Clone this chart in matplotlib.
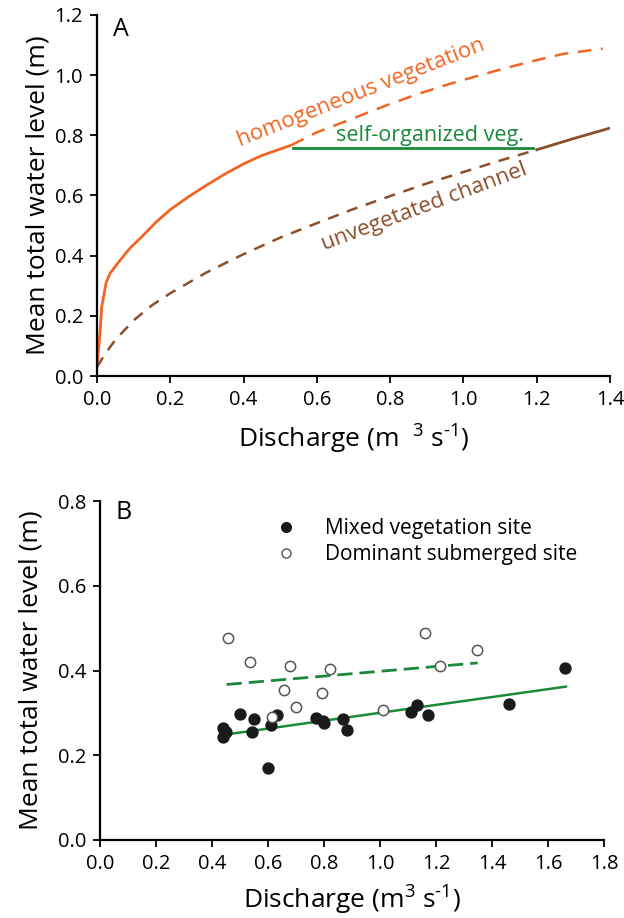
import numpy as np
from matplotlib import pyplot as plt
from matplotlib.lines import Line2D

plt.rcParams['font.family'] = ['Open Sans', 'DejaVu Sans']
plt.rcParams['mathtext.fontset'] = 'custom'
plt.rcParams['mathtext.rm'] = 'Open Sans'
plt.rcParams['mathtext.it'] = 'Open Sans'

ORANGE = '#f26522'
BROWN = '#8b4f2a'
GREEN = '#1a8a3a'

# ---- panel A: model curves
homog_solid_x = [0.0, 0.008, 0.013, 0.025, 0.035, 0.06, 0.09, 0.12, 0.16, 0.2, 0.25, 0.3,
                 0.35, 0.4, 0.45, 0.53]
homog_solid_y = [0.03, 0.14, 0.23, 0.31, 0.34, 0.38, 0.425, 0.46, 0.51, 0.553, 0.596, 0.635,
                 0.672, 0.705, 0.733, 0.767]
homog_dash_x = [0.53, 0.6, 0.69, 0.78, 0.87, 0.96, 1.04, 1.12, 1.2, 1.27, 1.33, 1.38]
homog_dash_y = [0.767, 0.81, 0.852, 0.895, 0.935, 0.97, 0.998, 1.025, 1.05, 1.07, 1.08, 1.088]

selforg_x = [0.535, 1.19]
selforg_y = [0.757, 0.757]

unveg_dash_x = [0.0, 0.008, 0.02, 0.05, 0.1, 0.15, 0.2, 0.3, 0.4, 0.5, 0.6, 0.7, 0.8, 0.9,
                1.0, 1.1, 1.2]
unveg_dash_y = [0.03, 0.045, 0.07, 0.12, 0.185, 0.235, 0.275, 0.345, 0.405, 0.46, 0.508, 0.555,
                0.598, 0.64, 0.678, 0.716, 0.752]
unveg_solid_x = [1.2, 1.3, 1.4]
unveg_solid_y = [0.752, 0.789, 0.824]

# ---- panel B: field data
mixed_q = [0.44, 0.45, 0.44, 0.50, 0.55, 0.541, 0.61, 0.631, 0.60, 0.77, 0.798, 0.80,
           0.869, 0.881, 1.11, 1.131, 1.17, 1.462, 1.662]
mixed_h = [0.265, 0.255, 0.243, 0.297, 0.286, 0.256, 0.271, 0.295, 0.169, 0.289, 0.281, 0.275,
           0.285, 0.260, 0.303, 0.319, 0.296, 0.321, 0.405]
subm_q = [0.456, 0.537, 0.677, 0.821, 0.658, 0.793, 0.699, 0.615, 1.161, 1.346, 1.213, 1.012]
subm_h = [0.477, 0.420, 0.411, 0.403, 0.354, 0.348, 0.314, 0.291, 0.489, 0.449, 0.411, 0.307]

mixed_fit_q = [0.44, 1.664]
mixed_fit_h = [0.248, 0.362]
subm_fit_q = [0.452, 1.349]
subm_fit_h = [0.367, 0.418]

fig = plt.figure(figsize=(6.24, 9.18), dpi=100)

def style(ax):
    for s in ['top', 'right']:
        ax.spines[s].set_visible(False)
    for s in ['left', 'bottom']:
        ax.spines[s].set_linewidth(1.6)
    ax.tick_params(direction='out', length=5, width=1.3, labelsize=14.5, pad=5)

# panel A
axA = fig.add_axes([0.1554, 0.5904, 0.8222, 0.3933])
axA.plot(homog_solid_x, homog_solid_y, color=ORANGE, lw=2, solid_capstyle='butt')
axA.plot(homog_dash_x, homog_dash_y, color=ORANGE, lw=1.8, dashes=(5.5, 3.8))
axA.plot(selforg_x, selforg_y, color=GREEN, lw=2)
axA.plot(unveg_dash_x, unveg_dash_y, color=BROWN, lw=1.8, dashes=(4.5, 3.5))
axA.plot(unveg_solid_x, unveg_solid_y, color=BROWN, lw=2)
axA.set_xlim(0, 1.4)
axA.set_ylim(0, 1.2)
axA.set_xticks(np.arange(0, 1.41, 0.2))
axA.set_yticks(np.arange(0, 1.21, 0.2))
axA.xaxis.set_major_formatter(plt.FormatStrFormatter('%.1f'))
axA.yaxis.set_major_formatter(plt.FormatStrFormatter('%.1f'))
style(axA)
axA.set_ylabel('Mean total water level (m)', fontsize=19, labelpad=3)
axA.set_xlabel('Discharge (m  $\\mathregular{^{3}}$ s$\\mathregular{^{\\text{-}1}}$)', fontsize=19, labelpad=9)
axA.text(0.044, 1.153, 'A', fontsize=18, ha='left', va='center')
axA.text(0.72, 0.94, 'homogeneous vegetation', color=ORANGE, fontsize=16,
         rotation=21.5, ha='center', va='center', rotation_mode='anchor')
axA.text(0.908, 0.80, 'self-organized veg.', color=GREEN, fontsize=15.5,
         ha='center', va='center')
axA.text(0.894, 0.56, 'unvegetated channel', color=BROWN, fontsize=16,
         rotation=20.5, ha='center', va='center', rotation_mode='anchor')

# panel B
axB = fig.add_axes([0.1603, 0.085, 0.8077, 0.3692])
axB.scatter(mixed_q, mixed_h, s=62, color='#1a1a1a', zorder=3)
axB.scatter(subm_q, subm_h, s=55, facecolor='white', edgecolor='#555555', linewidth=1.1, zorder=3)
axB.plot(mixed_fit_q, mixed_fit_h, color=GREEN, lw=1.8, zorder=2)
axB.plot(subm_fit_q, subm_fit_h, color=GREEN, lw=2, dashes=(5.5, 2.5), zorder=2)
axB.set_xlim(0, 1.8)
axB.set_ylim(0, 0.8)
axB.set_xticks(np.arange(0, 1.81, 0.2))
axB.set_yticks(np.arange(0, 0.81, 0.2))
axB.xaxis.set_major_formatter(plt.FormatStrFormatter('%.1f'))
axB.yaxis.set_major_formatter(plt.FormatStrFormatter('%.1f'))
style(axB)
axB.set_ylabel('Mean total water level (m)', fontsize=19, labelpad=10)
axB.set_xlabel('Discharge (m$\\mathregular{^{3}}$ s$\\mathregular{^{\\text{-}1}}$)', fontsize=19, labelpad=7)
axB.text(0.054, 0.774, 'B', fontsize=18, ha='left', va='center')

handles = [Line2D([], [], ls='none', marker='o', ms=7, color='#1a1a1a'),
           Line2D([], [], ls='none', marker='o', ms=6.5, mfc='white', mec='#555555', mew=1)]
axB.legend(handles, ['Mixed vegetation site', 'Dominant submerged site'],
           loc='upper left', bbox_to_anchor=(0.29, 1.005), frameon=False,
           fontsize=15, handletextpad=0.9, labelspacing=0.25)

fig.savefig('out.png', dpi=100)
